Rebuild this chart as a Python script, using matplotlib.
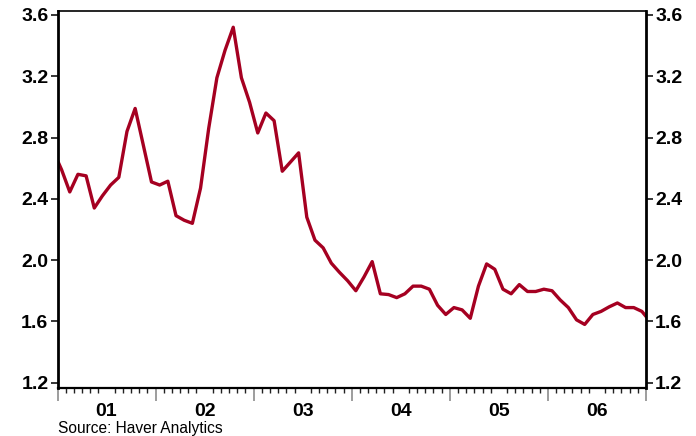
import numpy as np
import pandas as pd
import matplotlib
matplotlib.use("Agg")
import matplotlib.pyplot as plt

# ---- data (monthly, Dec 2000 .. Jan 2007) ----
start_month = "2000-12"
values = [
    2.71,
    2.59, 2.445, 2.56, 2.55, 2.34, 2.42, 2.49, 2.54, 2.84, 2.99, 2.75, 2.51,
    2.49, 2.515, 2.29, 2.26, 2.24, 2.47, 2.86, 3.19, 3.37, 3.52, 3.19, 3.03,
    2.83, 2.96, 2.91, 2.58, 2.64, 2.70, 2.28, 2.13, 2.08, 1.98, 1.92, 1.865,
    1.80, 1.89, 1.99, 1.78, 1.775, 1.755, 1.78, 1.83, 1.83, 1.81, 1.705, 1.645,
    1.69, 1.675, 1.62, 1.83, 1.975, 1.94, 1.81, 1.78, 1.84, 1.795, 1.795, 1.81,
    1.80, 1.74, 1.69, 1.61, 1.58, 1.645, 1.665, 1.695, 1.72, 1.69, 1.69, 1.665,
    1.60,
]
year_labels = ["01", "02", "03", "04", "05", "06"]
years = [2001, 2002, 2003, 2004, 2005, 2006]
yticks = [1.2, 1.6, 2.0, 2.4, 2.8, 3.2, 3.6]
source = "Source: Haver Analytics"

periods = pd.period_range(start_month, periods=len(values), freq="M")
x = np.array([p.year + (p.month - 0.5) / 12 for p in periods])

line_color = "#A50021"
bold_font = {"family": ["Liberation Sans", "DejaVu Sans"], "weight": "bold", "size": 14}

fig = plt.figure(figsize=(6.96, 4.36), dpi=100)
W, H = 696, 436
ax = fig.add_axes([57.5 / W, (H - 387.7) / H, (646 - 57.5) / W, (387.7 - 10.7) / H])

ax.plot(x, values, color=line_color, lw=2.4, solid_joinstyle="round", clip_on=True)

ax.set_xlim(years[0], years[-1] + 1)
ax.set_ylim(1.167, 3.628)

# y axis both sides
ax.set_yticks(yticks)
ax.set_yticklabels([f"{v:.1f}" for v in yticks], fontdict=bold_font)
ax.tick_params(axis="y", which="both", left=True, right=True, labelleft=True,
               labelright=True, direction="out", length=5, width=1.1, pad=1.5,
               color="black")

# x axis: labels at mid-year, monthly minor ticks
ax.set_xticks([y + 0.5 for y in years])
ax.set_xticklabels(year_labels, fontdict=bold_font)
ax.set_xticks([years[0] + m / 12 for m in range(len(years) * 12 + 1) if m % 12 != 0],
              minor=True)
ax.tick_params(axis="x", which="major", length=0, pad=11)
ax.tick_params(axis="x", which="minor", length=3.6, width=1.0, color="#222222",
               direction="out")

# year-boundary long grey ticks
sec = ax.secondary_xaxis("bottom")
sec.set_xticks([y for y in years] + [years[-1] + 1])
sec.set_xticklabels([])
sec.tick_params(axis="x", length=9, width=1.2, color="#8c8c8c", direction="out")
sec.spines["bottom"].set_visible(False)

for side in ["left", "right"]:
    ax.spines[side].set_linewidth(2.0)
ax.spines["bottom"].set_linewidth(1.6)
ax.spines["top"].set_linewidth(1.2)
for s in ax.spines.values():
    s.set_color("black")

fig.text(58 / W, (H - 428) / H, source,
         family=["Liberation Sans", "DejaVu Sans"],
         size=11.2, va="center", ha="left")

fig.savefig("out.png", dpi=100)
